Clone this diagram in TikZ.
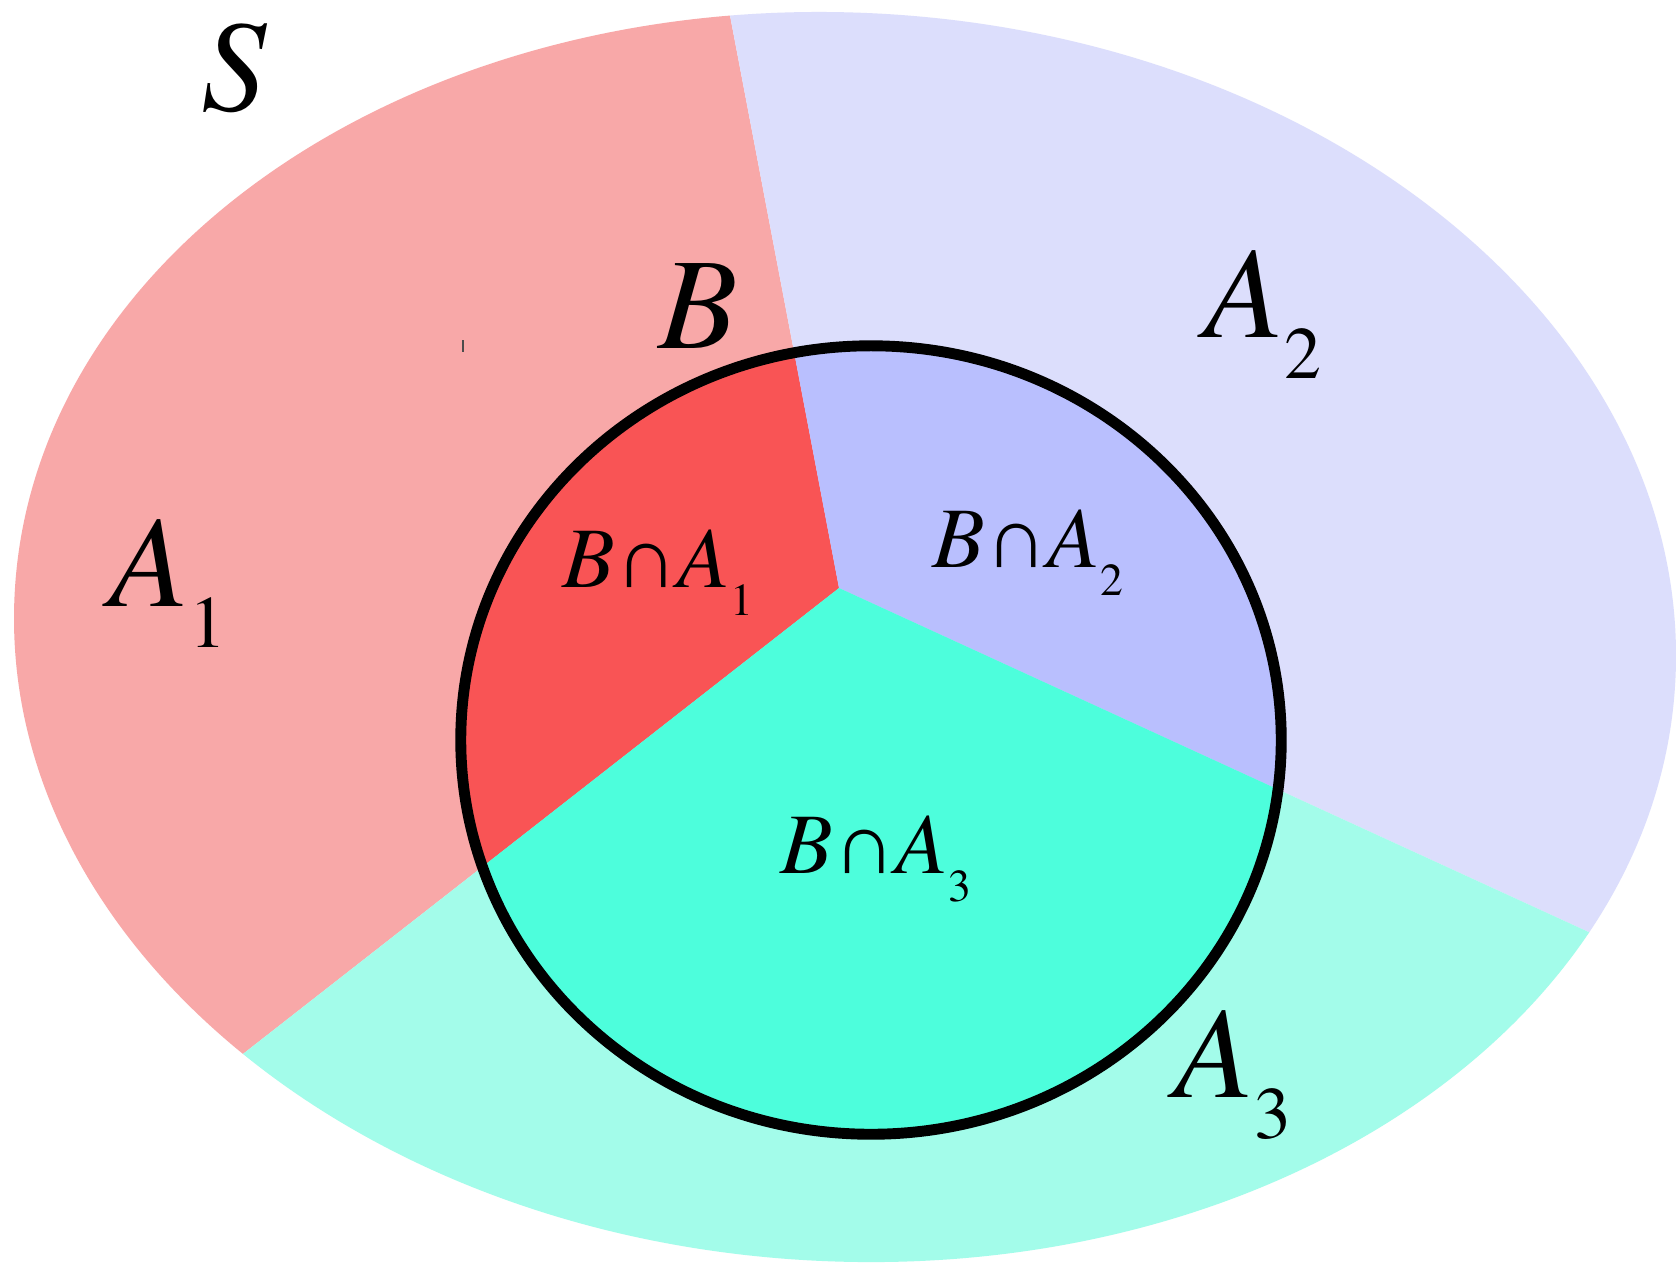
\documentclass[tikz,border=0pt]{standalone}
\usepackage{fontspec}
\IfFontExistsTF{texgyretermes-regular.otf}
  {\setmainfont{texgyretermes}[Extension=.otf,UprightFont=*-regular,ItalicFont=*-italic,BoldFont=*-bold]}
  {\setmainfont{Liberation Serif}}
\newfontfamily\capfont{Liberation Serif}
\definecolor{aonel}{HTML}{F8A8A8}
\definecolor{atwol}{HTML}{DCDEFC}
\definecolor{athreel}{HTML}{A3FCEA}
\definecolor{aoned}{HTML}{F95455}
\definecolor{atwod}{HTML}{B9BFFE}
\definecolor{athreed}{HTML}{4DFEDC}
\newcommand{\bigsub}[1]{\raisebox{-11.7pt}{\fontsize{21}{21}\selectfont\upshape #1}}
\newcommand{\smallsub}[1]{\raisebox{-8pt}{\fontsize{13}{13}\selectfont\upshape #1}}
\newcommand{\capsym}{{\capfont\upshape ∩}}
\tikzset{
  biglab/.style={inner sep=0pt, anchor=base west, font=\fontsize{37}{37}\selectfont\itshape},
  innerlab/.style={inner sep=0pt, anchor=base west, font=\fontsize{24.5}{24.5}\selectfont\itshape},
}
\begin{document}
\begin{tikzpicture}[x=0.01cm,y=-0.01cm]
\useasboundingbox (0,0) rectangle (1676,1265);
\fill[white] (0,0) rectangle (1676,1265);
\coordinate (C) at (839,588);
\coordinate (Ptop) at (708,-100);
\coordinate (Pll) at (-100,1322);
\coordinate (Pr) at (1800,1029);
% outer ellipse S
\begin{scope}
  \clip[shift={(845,637)}, rotate=-3] (0,0) ellipse [x radius=8.31cm, y radius=6.24cm];
  \fill[aonel] (C) -- (Ptop) -- (-100,-100) -- (-100,1322) -- cycle;
  \fill[atwol] (C) -- (Ptop) -- (1800,-100) -- (Pr) -- cycle;
  \fill[athreel] (C) -- (Pll) -- (-100,1400) -- (1800,1400) -- (Pr) -- cycle;
\end{scope}
% circle B
\begin{scope}
  \clip (871,740) ellipse [x radius=4.10cm, y radius=3.94cm];
  \fill[aoned] (C) -- (Ptop) -- (-100,-100) -- (-100,1322) -- cycle;
  \fill[atwod] (C) -- (Ptop) -- (1800,-100) -- (Pr) -- cycle;
  \fill[athreed] (C) -- (Pll) -- (-100,1400) -- (1800,1400) -- (Pr) -- cycle;
\end{scope}
\draw[line width=3.1pt] (871,740) ellipse [x radius=4.10cm, y radius=3.94cm];
\draw[line width=0.4pt, black!70] (463,340) -- (463,352);
% labels
\node[biglab] (S) at (201,110) {S};
\node[biglab] (Bl) at (658,348) {B};
\node[biglab] (A1) at (109,606) {A\bigsub{1}};
\node[biglab] (A2) at (1204,337) {A\bigsub{2}};
\node[biglab] (A3) at (1174,1097) {A\bigsub{3}};
\node[innerlab] (BA1) at (562,587) {B\capsym A\smallsub{1}};
\node[innerlab] (BA2) at (932,567) {B\capsym A\smallsub{2}};
\node[innerlab] (BA3) at (780,873) {B\capsym A\smallsub{3}};
\end{tikzpicture}
\end{document}
